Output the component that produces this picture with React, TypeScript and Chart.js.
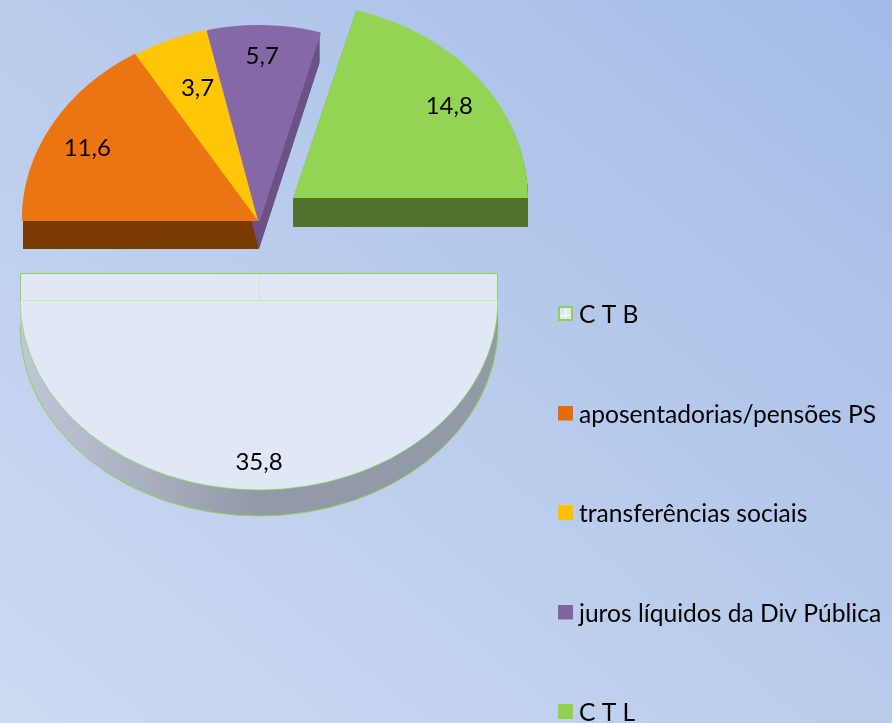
import React, { useEffect, useRef } from "react";
import { Chart, registerables } from "chart.js";

Chart.register(...registerables);

const categories = ["C T B", "aposentadorias/pensões PS", "transferências sociais", "juros líquidos da Div Pública", "C T L"];
const values = [35.8, 11.6, 3.7, 5.7, 14.8];
const faceColors = ["#e0e8f6", "#ec7513", "#ffc607", "#8668a6", "#94d454"];
const legendColors = ["#e0e8f6", "#e46c0a", "#ffc000", "#8064a2", "#92d050"];
const sideColors = ["#9299a7", "#7c3a03", "#7c3a03", "#6d5288", "#50722c"];
const EDGE = "#92d050";
const FONT = "Lato, 'Open Sans', sans-serif";

// placement of each exploded, tilted slice on the canvas
const placement = [
  { cx: 259, cy: 300, rx: 239, ry: 190, depth: 26, label: 0.853, dx: 0, dy: 0 },
  { cx: 259, cy: 220, rx: 236, ry: 194, depth: 29, label: 0.814, dx: -4, dy: 5 },
  { cx: 259, cy: 220, rx: 232, ry: 194, depth: 29, label: 0.73, dx: 3, dy: -1 },
  { cx: 259, cy: 220, rx: 226, ry: 194, depth: 29, label: 0.846, dx: -1, dy: 0 },
  { cx: 293, cy: 198, rx: 235, ry: 195, depth: 29, label: 0.808, dx: 5, dy: 4 },
];

function legendSwatch(index: number): HTMLCanvasElement {
  const c = document.createElement("canvas");
  c.width = 15;
  c.height = 19; // transparent strip below lifts the swatch relative to its text
  const g = c.getContext("2d")!;
  g.fillStyle = legendColors[index];
  g.fillRect(0, 0, 15, 15);
  if (index === 0) {
    g.strokeStyle = EDGE;
    g.lineWidth = 2;
    g.strokeRect(1, 1, 13, 13);
    g.fillStyle = "rgba(255,255,255,0.9)";
    g.fillRect(7, 3, 1, 9);
    g.fillRect(3, 9, 9, 1);
  }
  return c;
}

const LEGEND_SIZE = 24.6;

const tiltPlugin = {
  id: "tilt",
  afterLayout(chart: any) {
    const l = chart.legend;
    const pad = l.options.labels.padding;
    l.left = 564.3 - pad;
    l.right = 892;
    l.top = 315.5 - LEGEND_SIZE / 2 - pad;
    l.bottom = 1000;
  },
  beforeDatasetsDraw(chart: any) {
    const ctx = chart.ctx as CanvasRenderingContext2D;
    const arcs = chart.getDatasetMeta(0).data;
    const apply = (arc: any, p: any, dy: number) => {
      const R = arc.outerRadius;
      ctx.translate(p.cx, p.cy + dy);
      ctx.scale(p.rx / R, p.ry / R);
      ctx.translate(-arc.x, -arc.y);
    };
    // extruded sides
    arcs.forEach((arc: any, i: number) => {
      const p = placement[i];
      const R = arc.outerRadius;
      for (let d = p.depth; d >= 1; d--) {
        ctx.save();
        apply(arc, p, d);
        ctx.beginPath();
        ctx.moveTo(arc.x, arc.y);
        ctx.arc(arc.x, arc.y, R, arc.startAngle, arc.endAngle);
        ctx.closePath();
        if (i === 0) {
          const g = ctx.createLinearGradient(arc.x - R, 0, arc.x, 0);
          g.addColorStop(0, "#c0c7d6");
          g.addColorStop(1, sideColors[0]);
          ctx.fillStyle = g;
        } else {
          ctx.fillStyle = sideColors[i];
        }
        ctx.fill();
        ctx.restore();
      }
      if (i === 0) {
        // green outline of the lower rim
        ctx.save();
        apply(arc, p, p.depth);
        ctx.beginPath();
        ctx.arc(arc.x, arc.y, R, arc.startAngle, arc.endAngle);
        ctx.restore();
        ctx.strokeStyle = EDGE;
        ctx.lineWidth = 1;
        ctx.stroke();
      }
    });
    // faces
    arcs.forEach((arc: any, i: number) => {
      ctx.save();
      apply(arc, placement[i], 0);
      arc.draw(ctx);
      ctx.restore();
    });
    // back wall of the large slice
    const w = placement[0];
    const wall = w.depth + 1;
    ctx.fillStyle = faceColors[0];
    ctx.fillRect(w.cx - w.rx, w.cy - wall, w.rx * 2, wall);
    ctx.strokeStyle = "#c6ecb4";
    ctx.lineWidth = 1;
    ctx.beginPath();
    ctx.moveTo(w.cx - w.rx + 1, w.cy + 0.5);
    ctx.lineTo(w.cx + w.rx - 1, w.cy + 0.5);
    ctx.moveTo(w.cx + 0.5, w.cy - wall);
    ctx.lineTo(w.cx + 0.5, w.cy);
    ctx.stroke();
    ctx.strokeStyle = EDGE;
    ctx.beginPath();
    ctx.moveTo(w.cx - w.rx + 0.5, w.cy);
    ctx.lineTo(w.cx - w.rx + 0.5, w.cy - wall + 0.5);
    ctx.lineTo(w.cx + w.rx - 0.5, w.cy - wall + 0.5);
    ctx.lineTo(w.cx + w.rx - 0.5, w.cy);
    ctx.stroke();
    // value labels
    ctx.font = `24px ${FONT}`;
    ctx.fillStyle = "#000000";
    ctx.textAlign = "center";
    ctx.textBaseline = "middle";
    arcs.forEach((arc: any, i: number) => {
      const p = placement[i];
      const mid = (arc.startAngle + arc.endAngle) / 2;
      const x = p.cx + p.dx + p.rx * p.label * Math.cos(mid);
      const y = p.cy + p.dy + p.ry * p.label * Math.sin(mid);
      ctx.fillText(String(values[i]).replace(".", ","), x, y);
    });
    return false;
  },
};

export default function App() {
  const ref = useRef<HTMLCanvasElement>(null);
  useEffect(() => {
    document.body.style.margin = "0";
    const chart = new Chart(ref.current!, {
      type: "pie",
      data: {
        labels: categories,
        datasets: [
          {
            data: values,
            backgroundColor: faceColors,
            borderColor: [EDGE, faceColors[1], faceColors[2], faceColors[3], "transparent"],
            borderWidth: [1, 3, 3, 3, 0],
          },
        ],
      },
      options: {
        responsive: false,
        animation: false,
        events: [],
        rotation: 90,
        plugins: {
          tooltip: { enabled: false },
          legend: {
            display: true,
            position: "right",
            align: "start",
            maxWidth: 300,
            labels: {
              color: "#000000",
              font: { family: FONT, size: LEGEND_SIZE },
              usePointStyle: true,
              pointStyleWidth: 2.4,
              boxHeight: 15,
              padding: 74.9,
              generateLabels: () =>
                categories.map((text, i) => ({
                  text,
                  index: i,
                  pointStyle: legendSwatch(i),
                  fillStyle: legendColors[i],
                  strokeStyle: legendColors[i],
                  lineWidth: 0,
                  hidden: false,
                })),
            },
          },
        },
      } as any,
      plugins: [tiltPlugin],
    });
    return () => chart.destroy();
  }, []);
  return (
    <div
      style={{
        width: 892,
        height: 723,
        background: "linear-gradient(to top right, #cddaf2, #b9ccec 50%, #a3bbe7)",
      }}
    >
      <canvas ref={ref} width={892} height={723} style={{ display: "block" }} />
    </div>
  );
}
